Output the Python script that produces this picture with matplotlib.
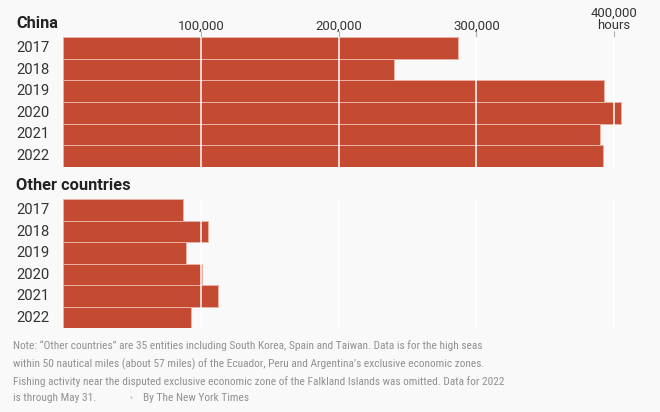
import os
import matplotlib
matplotlib.use("Agg")
import matplotlib.pyplot as plt
import matplotlib.transforms as mtransforms
from matplotlib import font_manager
from matplotlib.font_manager import FontProperties
from matplotlib.textpath import TextPath

years = ["2017", "2018", "2019", "2020", "2021", "2022"]
china_hours = [287000, 240000, 393000, 405000, 390000, 392000]
other_hours = [87000, 105000, 89000, 101000, 112000, 92500]
tick_values = [100000, 200000, 300000, 400000]
tick_labels = ["100,000", "200,000", "300,000", "400,000\nhours"]
note_lines = [
    "Note: \u201cOther countries\u201d are 35 entities including South Korea, Spain and Taiwan. Data is for the high seas",
    "within 50 nautical miles (about 57 miles) of the Ecuador, Peru and Argentina\u2019s exclusive economic zones.",
    "Fishing activity near the disputed exclusive economic zone of the Falkland Islands was omitted. Data for 2022",
    "is through May 31.",
]
credit = "By The New York Times"

# ---- font selection (static files only, matched by proportions) ----
def static_files(weight):
    out = {}
    for f in font_manager.fontManager.ttflist:
        base = os.path.basename(f.fname)
        if "[" in base or f.style != "normal":
            continue
        if f.weight == weight and f.name not in out:
            out[f.name] = f.fname
    return out

REG = static_files(400)
BOLD = static_files(700)

def ratio(path, text):
    fp = FontProperties(fname=path)
    w = TextPath((0, 0), text, size=10, prop=fp).get_extents().width
    h = TextPath((0, 0), "H", size=10, prop=fp).get_extents().height
    return w / h if h > 0 else 1e9

def choose(cands, table, text, target, default):
    best, err = None, 1e9
    for c in cands:
        if c in table:
            try:
                e = abs(ratio(table[c], text) - target)
            except Exception:
                continue
            if e < err:
                best, err = table[c], e
    return best or default

fallback_reg = font_manager.findfont(FontProperties(family="DejaVu Sans"))
fallback_bold = font_manager.findfont(FontProperties(family="DejaVu Sans", weight="bold"))

cands = ["Libre Franklin", "Roboto", "Liberation Sans", "Arimo", "Noto Sans", "Lato",
         "Open Sans", "Inter", "Public Sans", "Source Sans Pro", "Source Sans 3",
         "Fira Sans", "IBM Plex Sans", "Work Sans", "Archivo", "Hind", "Karla",
         "Roboto Condensed", "Archivo Narrow", "PT Sans Narrow", "Fira Sans Condensed",
         "IBM Plex Sans Condensed", "Barlow Semi Condensed"]

P_NOTE = choose(cands, REG, note_lines[0], 58.0, fallback_reg)
P_HEAD = choose(cands, BOLD, "Other countries", 9.8, fallback_bold)
P_MAIN = choose(cands, REG, "2017", 3.0, fallback_reg)

W, H = 660, 412
BG = "#f9f9f9"
BAR = "#c44b31"
EDGE = "#e9b2a4"

fig = plt.figure(figsize=(W / 100, H / 100), dpi=100, facecolor=BG)

def fx(px):
    return px / W

def fy(py):
    return 1 - py / H

def fit_size(text, target_px, path):
    w = TextPath((0, 0), text, size=10, prop=FontProperties(fname=path)).get_extents().width
    return 10 * target_px / (w * 100 / 72)

def fp(path, size):
    return FontProperties(fname=path, size=size)

s_note = fit_size(note_lines[0], 468, P_NOTE)
s_head = fit_size("Other countries", 113, P_HEAD)
s_year = fit_size("2017", 32, P_MAIN)
s_tick = fit_size("100,000", 45, P_MAIN)

x0 = 63.3
px_per_100k = 137.7
xmax = 425000
ax_w = xmax / 100000 * px_per_100k

def make_ax(top, bottom):
    ax = fig.add_axes([fx(x0), fy(bottom), ax_w / W, (bottom - top) / H])
    ax.set_facecolor(BG)
    ax.set_xlim(0, xmax)
    ax.set_ylim(len(years) - 0.5, -0.5)
    for s in ax.spines.values():
        s.set_visible(False)
    ax.set_yticks([])
    return ax

ax1 = make_ax(37.3, 166.7)
ax2 = make_ax(199.3, 328.3)

for ax, vals in ((ax1, china_hours), (ax2, other_hours)):
    ax.barh(range(len(years)), vals, height=1.0, color=BAR, edgecolor=EDGE,
            linewidth=0.7, zorder=2)
    for t in tick_values:
        ax.axvline(t, color="white", lw=1.1, zorder=3)
    ax.set_xticks(tick_values)
    trans = mtransforms.blended_transform_factory(fig.transFigure, ax.transData)
    for i, y in enumerate(years):
        ax.text(fx(16), i, y, transform=trans, ha="left", va="center",
                fontproperties=fp(P_MAIN, s_year), color="#333333")

ax1.xaxis.tick_top()
ax1.set_xticklabels(tick_labels, fontproperties=fp(P_MAIN, s_tick), color="#333333",
                    linespacing=1.0)
ax1.tick_params(axis="x", length=4, width=0.8, color="#b0b0b0", pad=-0.5)
ax2.set_xticks([])

fig.text(fx(16), fy(24), "China", ha="left", va="center",
         fontproperties=fp(P_HEAD, s_head), color="#222222")
fig.text(fx(16), fy(185.7), "Other countries", ha="left", va="center",
         fontproperties=fp(P_HEAD, s_head), color="#222222")

note_y = [345.7, 364.0, 381.7, 398.3]
for line, y in zip(note_lines, note_y):
    fig.text(fx(13), fy(y), line, ha="left", va="center",
             fontproperties=fp(P_NOTE, s_note), color="#919191")
fig.text(fx(131), fy(398.3), "\u2022", ha="center", va="center", fontsize=6,
         color="#cccccc", family="DejaVu Sans")
fig.text(fx(143), fy(398.3), credit, ha="left", va="center",
         fontproperties=fp(P_NOTE, s_note), color="#919191")

fig.savefig("out.png", dpi=100, facecolor=BG)
